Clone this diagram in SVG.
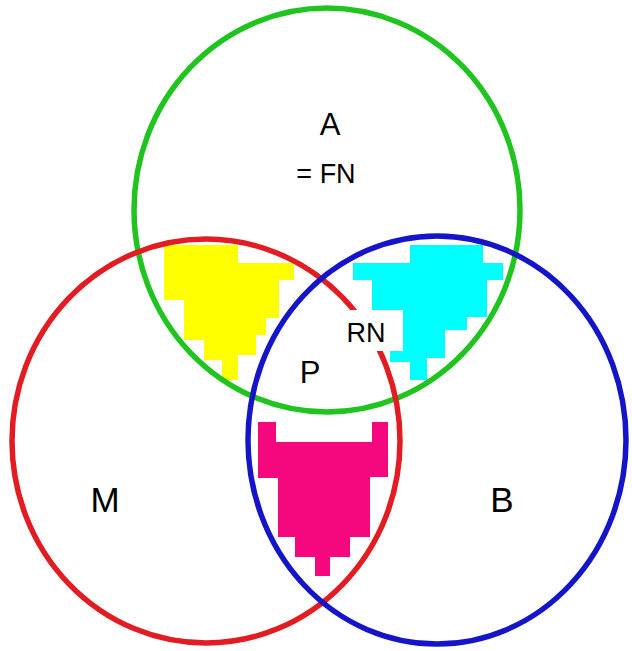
<svg xmlns="http://www.w3.org/2000/svg" width="632" height="651" viewBox="0 0 632 651">
<style>
.ring{fill:none;stroke-width:5.5}
.lbl{font-family:"Liberation Sans",Arial,sans-serif;fill:#000;text-anchor:middle}
</style>
<rect width="632" height="651" fill="#fff"/>
<g id="shapes">
<polygon id="yellow" fill="#ffff00" points="164,245 238,245 238,263 294,263 294,280 279,280 279,318 266,318 266,335 256,335 256,355 238,355 238,380 222,380 222,360 204,360 204,340 184,340 184,300 164,300"/>
<polygon id="cyan" fill="#00ffff" points="410,245 483,245 483,263 503,263 503,280 487,280 487,317 467,317 467,330 445,330 445,358 427,358 427,380 410,380 410,362 390,362 390,350 403,350 403,310 372,310 372,280 353,280 353,263 410,263"/>
<polygon id="magenta" fill="#f5087e" points="258,422 276,422 276,442 372,442 372,422 388,422 388,477 370,477 370,537 350,537 350,557 330,557 330,576 315,576 315,557 295,557 295,537 278,537 278,478 258,478"/>
</g>
<g id="A"><ellipse class="ring" stroke="#1fc41f" cx="327" cy="210" rx="193" ry="202"/></g>
<g id="M"><ellipse class="ring" stroke="#e21c22" cx="206" cy="441" rx="194" ry="202"/></g>
<g id="B"><ellipse class="ring" stroke="#1414c8" cx="437" cy="440" rx="189" ry="204"/></g>
<rect x="343" y="310" width="60" height="41" fill="#fff"/>
<g id="labels">
<text class="lbl" x="330" y="135" font-size="31">A</text>
<text class="lbl" x="326" y="183" font-size="27">= FN</text>
<text class="lbl" x="366" y="342" font-size="27">RN</text>
<text class="lbl" x="310" y="383" font-size="31">P</text>
<text class="lbl" x="105" y="512" font-size="35">M</text>
<text class="lbl" x="502" y="512" font-size="35">B</text>
</g>
</svg>
